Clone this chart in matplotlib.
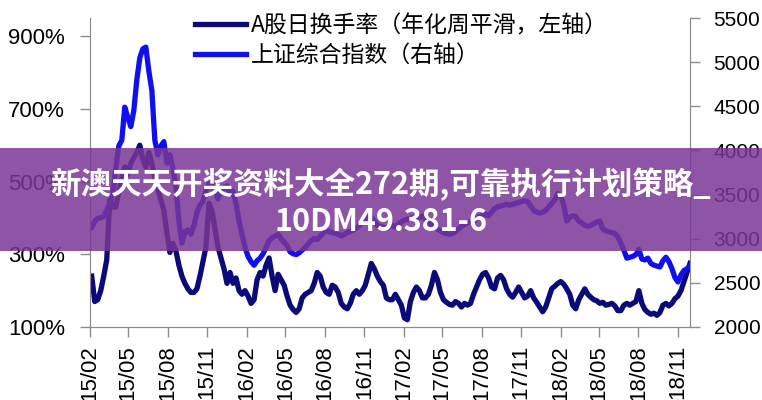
import pandas as pd
import matplotlib.pyplot as plt
import matplotlib.dates as mdates
from matplotlib.patches import Rectangle

plt.rcParams['font.family'] = ['Liberation Sans', 'Noto Sans CJK SC', 'DejaVu Sans']

# weekly points, first one on 2015-02-05
start_date = '2015-02-05'

# A股日换手率 (annualised, weekly smoothed), %
turnover = [
    240, 170, 175, 200, 240, 285, 450, 430, 430, 470,
    510, 540, 520, 550, 565, 580, 600, 560, 540, 580,
    550, 510, 480, 450, 420, 360, 305, 330, 310, 270,
    240, 220, 205, 195, 195, 205, 240, 280, 320, 440,
    420, 370, 320, 290, 260, 220, 250, 220, 235, 200,
    190, 200, 185, 165, 175, 230, 250, 240, 270, 290,
    240, 200, 245, 230, 215, 185, 160, 148, 140, 150,
    180, 190, 195, 200, 220, 250, 240, 210, 195, 190,
    215, 210, 195, 165, 155, 150, 165, 190, 200, 190,
    200, 215, 245, 275, 260, 240, 225, 215, 180, 175,
    175, 190, 175, 160, 125, 120, 170, 195, 210, 200,
    180, 180, 190, 215, 250, 230, 195, 175, 168, 162,
    160, 170, 165, 155, 165, 160, 165, 190, 210, 230,
    245, 250, 235, 210, 205, 235, 242, 230, 205, 190,
    182, 195, 210, 195, 180, 185, 200, 180, 168, 155,
    142, 155, 180, 205, 212, 220, 225, 218, 205, 190,
    160, 150, 175, 190, 205, 190, 182, 175, 172, 165,
    168, 160, 162, 165, 158, 145, 145, 160, 165, 160,
    165, 170, 200, 165, 148, 140, 135, 138, 132, 140,
    160, 165, 158, 165, 178, 185, 200, 225, 250, 275,
]

# 上证综合指数
sh_index = [
    3130, 3200, 3230, 3240, 3250, 3320, 3400, 3500, 3800, 4050,
    4115, 4490, 4375, 4270, 4450, 4800, 5050, 5150, 5170, 4900,
    4680, 4115, 3950, 4050, 4100, 3855, 3950, 3800, 3600, 3200,
    2950, 3080, 3100, 3050, 3150, 3300, 3380, 3420, 3550, 3620,
    3600, 3560, 3450, 3530, 3580, 3600, 3500, 3540, 3400, 3200,
    3050, 2900, 2800, 2740, 2700, 2750, 2780, 2830, 2900, 2980,
    3010, 3030, 3050, 3000, 2960, 2920, 2850, 2830, 2820, 2840,
    2870, 2900, 2940, 2980, 3000, 2990, 3030, 3060, 3100, 3080,
    3070, 3060, 3050, 3030, 3050, 3070, 3080, 3100, 3120, 3150,
    3200, 3230, 3250, 3240, 3200, 3150, 3140, 3130, 3120, 3140,
    3150, 3130, 3170, 3190, 3210, 3220, 3230, 3240, 3250, 3240,
    3260, 3220, 3180, 3150, 3130, 3110, 3090, 3070, 3060, 3050,
    3060, 3080, 3110, 3140, 3160, 3180, 3200, 3190, 3230, 3250,
    3260, 3280, 3260, 3300, 3340, 3360, 3370, 3380, 3390, 3380,
    3390, 3400, 3410, 3420, 3430, 3420, 3370, 3320, 3300, 3290,
    3300, 3320, 3360, 3400, 3440, 3510, 3490, 3380, 3200, 3240,
    3260, 3250, 3200, 3180, 3150, 3140, 3150, 3170, 3190, 3200,
    3110, 3090, 3080, 3070, 3060, 3020, 2950, 2870, 2780, 2790,
    2800, 2820, 2880, 2770, 2760, 2780, 2720, 2700, 2690, 2680,
    2750, 2790, 2740, 2660, 2560, 2510, 2590, 2640, 2660, 2690,
]

labels = ['A股日换手率（年化周平滑，左轴）', '上证综合指数（右轴）']
banner_text = '新澳天天开奖资料大全272期,可靠执行计划策略_\n10DM49.381-6'

dates = pd.date_range(start_date, periods=len(turnover), freq='7D')

fig = plt.figure(figsize=(7.62, 4.0), dpi=100)
ax = fig.add_axes([0.1181, 0.1825, 0.7874, 0.7725])
ax2 = ax.twinx()

l1, = ax.plot(dates, turnover, color='#0a0a78', lw=3.8, solid_joinstyle='round')
l2, = ax2.plot(dates, sh_index, color='#0f0ff0', lw=3.8, solid_joinstyle='round')

ax.set_ylim(100, 950)
ax.set_yticks([100, 300, 500, 700, 900])
ax.set_yticklabels([f'{v}%' for v in [100, 300, 500, 700, 900]])
ax2.set_ylim(2000, 5500)
ax2.set_yticks(range(2000, 5501, 500))

ax.set_xlim(pd.Timestamp('2015-02-01'), pd.Timestamp('2018-11-29'))
ax.xaxis.set_major_locator(mdates.MonthLocator(bymonth=[2, 5, 8, 11]))
ax.xaxis.set_major_formatter(mdates.DateFormatter('%y/%m'))
plt.setp(ax.get_xticklabels(), rotation=90)

grey = '#8c8c8c'
for a in (ax, ax2):
    a.spines['top'].set_visible(False)
    for s in a.spines.values():
        s.set_color(grey)
    a.tick_params(colors=grey, labelcolor='black', labelsize=16, length=7, width=1)
ax.tick_params(axis='y', pad=11)
ax2.tick_params(axis='y', pad=10, labelsize=15)
ax.tick_params(axis='x', pad=6)

fig.legend([l1, l2], labels, loc='upper left', bbox_to_anchor=(0.235, 1.005),
           frameon=False, borderpad=0.2, handlelength=2.2, handletextpad=0.25,
           labelspacing=0.3, prop={'family': ['Noto Sans CJK SC'], 'size': 16.5})

# overlay banner
fig.patches.append(Rectangle((0, 0.3725), 1, 0.2575, transform=fig.transFigure,
                             facecolor=(122/255, 54/255, 150/255), alpha=0.85,
                             edgecolor='none', zorder=10))
fig.text(0.5, 0.493, banner_text, ha='center', va='center', color='white',
         fontsize=22, fontweight='bold', linespacing=1.2,
         family=['Noto Sans CJK SC', 'DejaVu Sans'], zorder=11)

fig.savefig('out.png', dpi=100)
